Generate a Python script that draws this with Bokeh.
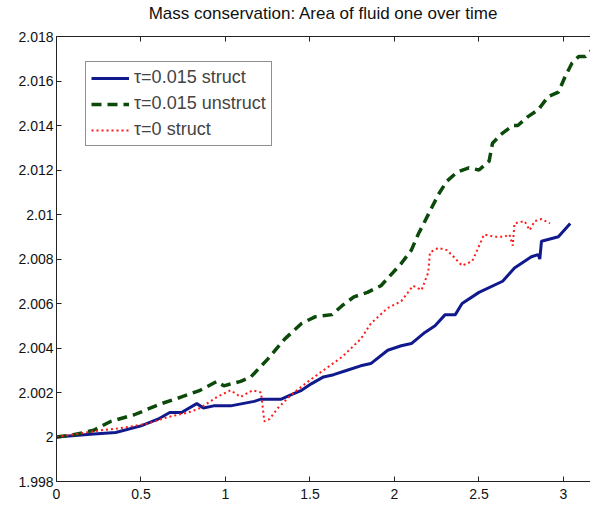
from bokeh.plotting import figure
from bokeh.models import Range1d, LinearAxis, FixedTicker, Legend, LegendItem, CustomLabelingPolicy
from bokeh.embed import file_html
from bokeh.resources import INLINE

TITLE = "Mass conservation: Area of fluid one over time"

x_ticks = [0, 0.5, 1, 1.5, 2, 2.5, 3]
x_tick_labels = ["0", "0.5", "1", "1.5", "2", "2.5", "3"]
y_ticks = [1.998, 2.0, 2.002, 2.004, 2.006, 2.008, 2.01, 2.012, 2.014, 2.016, 2.018]
y_tick_labels = ["1.998", "2", "2.002", "2.004", "2.006", "2.008", "2.01", "2.012", "2.014", "2.016", "2.018"]

series_names = ["\u03c4=0.015 struct", "\u03c4=0.015 unstruct", "\u03c4=0 struct"]

struct_x = [0, 0.22, 0.35, 0.5, 0.6, 0.67, 0.74, 0.83, 0.87, 0.93, 1.03, 1.17, 1.21, 1.27, 1.33,
            1.39, 1.45, 1.51, 1.58, 1.64, 1.72, 1.80, 1.86, 1.96, 2.04, 2.10, 2.18, 2.24, 2.30,
            2.36, 2.40, 2.50, 2.64, 2.71, 2.81, 2.85, 2.86, 2.87, 2.97, 3.04]
struct_y = [2.0, 2.00013, 2.0002, 2.0005, 2.0008, 2.0011, 2.0011, 2.0015, 2.0013, 2.0014, 2.0014,
            2.0016, 2.0017, 2.0017, 2.0017, 2.0019, 2.0021, 2.0024, 2.0027, 2.0028, 2.003, 2.0032,
            2.0033, 2.0039, 2.0041, 2.0042, 2.0047, 2.005, 2.0055, 2.0055, 2.006, 2.0065, 2.007,
            2.0076, 2.0081, 2.0082, 2.008, 2.0088, 2.009, 2.0096]

unstruct_x = [0, 0.1, 0.22, 0.32, 0.46, 0.62, 0.74, 0.85, 0.95, 0.99, 1.09, 1.15, 1.25, 1.35,
              1.45, 1.53, 1.63, 1.69, 1.76, 1.84, 1.92, 1.98, 2.04, 2.10, 2.14, 2.18, 2.22, 2.26,
              2.31, 2.37, 2.44, 2.50, 2.56, 2.58, 2.63, 2.70, 2.73, 2.79, 2.85, 2.91, 2.97, 3.01,
              3.05, 3.09, 3.13, 3.17]
unstruct_y = [2.0, 2.0001, 2.0003, 2.0007, 2.001, 2.0015, 2.0018, 2.0021, 2.0025, 2.0023, 2.0025,
              2.0027, 2.0035, 2.0044, 2.0051, 2.0054, 2.0055, 2.0059, 2.0063, 2.0065, 2.0068,
              2.0073, 2.0078, 2.0084, 2.0091, 2.0097, 2.0103, 2.0109, 2.0115, 2.0119, 2.0121,
              2.012, 2.0124, 2.0132, 2.0136, 2.014, 2.014, 2.0144, 2.0147, 2.0153, 2.0155,
              2.0162, 2.0168, 2.0171, 2.0171, 2.0174]

tau0_x = [0, 0.26, 0.38, 0.54, 0.66, 0.78, 0.85, 0.95, 1.03, 1.09, 1.16, 1.21, 1.23, 1.26, 1.31,
          1.39, 1.49, 1.58, 1.69, 1.80, 1.86, 1.96, 2.04, 2.11, 2.16, 2.20, 2.21, 2.26, 2.31,
          2.35, 2.40, 2.46, 2.49, 2.53, 2.59, 2.65, 2.68, 2.70, 2.71, 2.77, 2.80, 2.83, 2.87, 2.92]
tau0_y = [2.0, 2.0003, 2.0004, 2.0006, 2.0009, 2.0011, 2.0013, 2.0018, 2.0021, 2.0018, 2.0021,
          2.002, 2.0007, 2.0008, 2.0013, 2.0019, 2.0025, 2.003, 2.0036, 2.0044, 2.0051, 2.0058,
          2.0061, 2.0068, 2.0066, 2.0074, 2.0083, 2.0085, 2.0084, 2.0081, 2.0077, 2.0079,
          2.0084, 2.0091, 2.009, 2.009, 2.0091, 2.0086, 2.0096, 2.0097, 2.0093, 2.0097,
          2.0098, 2.0096]

FONT = "Liberation Sans"

p = figure(width=590, height=506, output_backend="svg", toolbar_location=None,
           x_range=Range1d(0, 3.16), y_range=Range1d(1.998, 2.018),
           min_border_left=56, min_border_right=0, min_border_top=34, min_border_bottom=25,
           title=TITLE)
p.title.align = "center"
p.title.text_font = FONT
p.title.text_font_size = "17px"
p.title.text_font_style = "normal"
p.title.text_color = "#111111"
p.title.standoff = 2
p.outline_line_color = None
p.xgrid.visible = False
p.ygrid.visible = False
p.background_fill_color = "white"
p.border_fill_color = "white"

def style_axis(ax, ticks, labels):
    ax.ticker = FixedTicker(ticks=ticks)
    ax.major_label_overrides = {t: l for t, l in zip(ticks, labels)}
    ax.major_tick_in = 5
    ax.major_tick_out = 0
    ax.minor_tick_line_color = None
    ax.axis_line_color = "#222222"
    ax.major_tick_line_color = "#222222"
    ax.major_label_text_font = FONT
    ax.major_label_text_font_size = "14px"
    ax.major_label_text_color = "#111111"

style_axis(p.xaxis[0], x_ticks, x_tick_labels)
p.xaxis[0].major_label_standoff = 7
style_axis(p.yaxis[0], y_ticks, y_tick_labels)
p.yaxis[0].major_label_standoff = 3

top = LinearAxis()
style_axis(top, x_ticks, x_tick_labels)
top.major_label_policy = CustomLabelingPolicy(code="return new Set()")
top.major_label_standoff = 0
p.add_layout(top, "above")

r1 = p.line(struct_x, struct_y, line_color="#101a8c", line_width=3)
r2 = p.line(unstruct_x, unstruct_y, line_color="#0b4a0b", line_width=3.5, line_dash="10 6")
r3 = p.line(tau0_x, tau0_y, line_color="#ff1a1a", line_width=2, line_dash="2 3")

legend = Legend(items=[LegendItem(label=series_names[0], renderers=[r1]),
                       LegendItem(label=series_names[1], renderers=[r2]),
                       LegendItem(label=series_names[2], renderers=[r3])],
                location=(29, 335), margin=0, padding=5, spacing=5,
                glyph_width=38, glyph_height=20, label_height=20, label_standoff=5,
                label_text_font=FONT, label_text_font_size="18px",
                border_line_color="#222222", border_line_width=1,
                background_fill_color="white", background_fill_alpha=1.0)
p.add_layout(legend, "center")

open("out.html", "w").write(file_html(p, INLINE))
